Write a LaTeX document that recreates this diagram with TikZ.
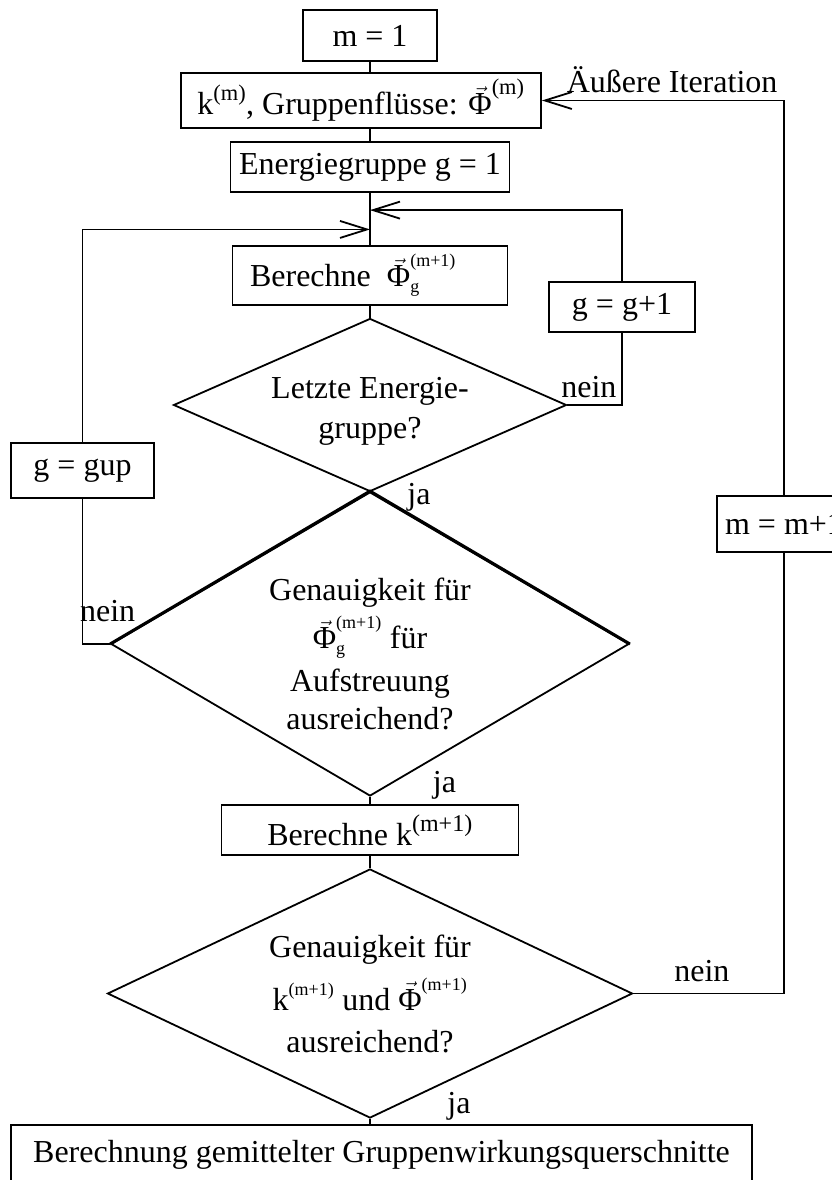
\documentclass[tikz,border=0pt]{standalone}
\usepackage{amsmath}
\usepackage{fontspec}
\setmainfont{Liberation Serif}
\usetikzlibrary{calc,shapes.geometric,arrows.meta,positioning}

\tikzset{
  box/.style={draw, inner sep=0pt, align=center},
  decision/.style={draw, diamond, inner sep=0pt, align=center},
  lbl/.style={inner sep=0pt},
  barb/.style={-{Straight Barb[length=27pt,width=17pt]}},
}
\newcommand{\Phivec}{\vec{\text{Φ}}}
\newcommand{\sups}[1]{\text{\fontsize{18}{18}\selectfont #1}}

\begin{document}
\begin{tikzpicture}[x=1pt, y=-1pt, line width=1.8pt, font=\fontsize{32}{38}\selectfont]
\useasboundingbox (0,0) rectangle (832,1180);

\node[box, minimum width=134pt, minimum height=51pt] (m1) at (370,35.5) {m = 1};
\node[box, minimum width=360pt, minimum height=55pt] (kflux) at (361,100.5)
  {$\text{k}^{\text{(m)}}$, Gruppenflüsse: $\Phivec^{\text{(m)}}$};
\node[box, minimum width=279pt, minimum height=50pt] (egrp) at (370,167) {Energiegruppe g = 1};
\node[box, minimum width=275pt, minimum height=59pt] (berphi) at (370,275.5)
  {Berechne\enspace $\Phivec^{\sups{(m+1)}}_{\sups{g}}$\hspace{34pt}};
\node[box, minimum width=146pt, minimum height=50pt] (gplus) at (622,307) {g = g+1};
\node[decision, aspect=2.27, minimum width=393pt, minimum height=173pt,
  font=\fontsize{32}{40}\selectfont] (d1) at (370,405)
  {\rule{0pt}{34pt}Letzte Energie-\\gruppe?};
\node[box, minimum width=143pt, minimum height=55pt] (gup) at (82.5,470.5) {g = gup};
\node[decision, aspect=1.7, minimum width=518pt, minimum height=304pt,
  font=\fontsize{32}{43}\selectfont] (d2) at (370,644)
  {\rule{0pt}{42pt}Genauigkeit für\\[5pt] $\Phivec^{\sups{(m+1)}}_{\sups{g}}$ für\\ Aufstreuung\\[-5pt] ausreichend?};
\node[box, minimum width=134pt, minimum height=56pt] (mplus) at (784,524) {m = m+1};
\node[box, minimum width=297pt, minimum height=50pt] (berk) at (370,830)
  {Berechne $\text{k}^{\text{\fontsize{24}{24}\selectfont(m+1)}}$};
\node[decision, aspect=2.1, minimum width=525pt, minimum height=249pt,
  font=\fontsize{32}{42}\selectfont] (d3) at (370,993.5)
  {Genauigkeit für\\[11pt] $\text{k}^{\sups{(m+1)}}$ und $\Phivec^{\sups{(m+1)}}$\\ ausreichend?};
\node[box, minimum width=741pt, minimum height=60pt] (final) at (381.5,1155)
  {Berechnung gemittelter Gruppenwirkungsquerschnitte};

% main line
\draw (m1.south) -- (kflux.north -| m1.south);
\draw (kflux.south -| egrp.north) -- (egrp.north);
\draw (egrp.south) -- (berphi.north);
\draw (berphi.south) -- (d1.north);
\draw (d2.south) -- (berk.north);
\draw (berk.south) -- (d3.north);
\draw (d3.south) -- (final.north -| d3.south);
\draw[line width=3pt] (d2.west) -- (d2.north) -- (d2.east);

% loops
\coordinate (j1) at ($(egrp.south)!0.33!(berphi.north)$);
\coordinate (j2) at ($(egrp.south)!0.70!(berphi.north)$);
\draw (d1.east) -| (gplus.south);
\draw[barb] (gplus.north) |- (j1);
\draw (d2.west) -| (gup.south);
\draw[barb] (gup.north) |- (j2);
\draw (d3.east) -| (mplus.south);
\draw[barb] (mplus.north) |- (kflux.east);

% labels
\node[lbl, above right=6pt and -7pt of d1.east] (nein1) {nein};
\node[lbl, anchor=base west] (ja1) at ($(d1.south)+(36.5,12)$) {ja};
\node[lbl, above left=21pt and -26pt of d2.west] (nein2) {nein};
\node[lbl, anchor=base west] (ja2) at ($(d2.south)+(62,-4)$) {ja};
\node[lbl, above right=10.5pt and 40pt of d3.east] (nein3) {nein};
\node[lbl, anchor=base west] (ja3) at ($(d3.south)+(76.5,-5)$) {ja};
\node[lbl, anchor=base west] (outer) at ($(kflux.east)+(24,-7.5)$) {Äußere Iteration};
\end{tikzpicture}
\end{document}
